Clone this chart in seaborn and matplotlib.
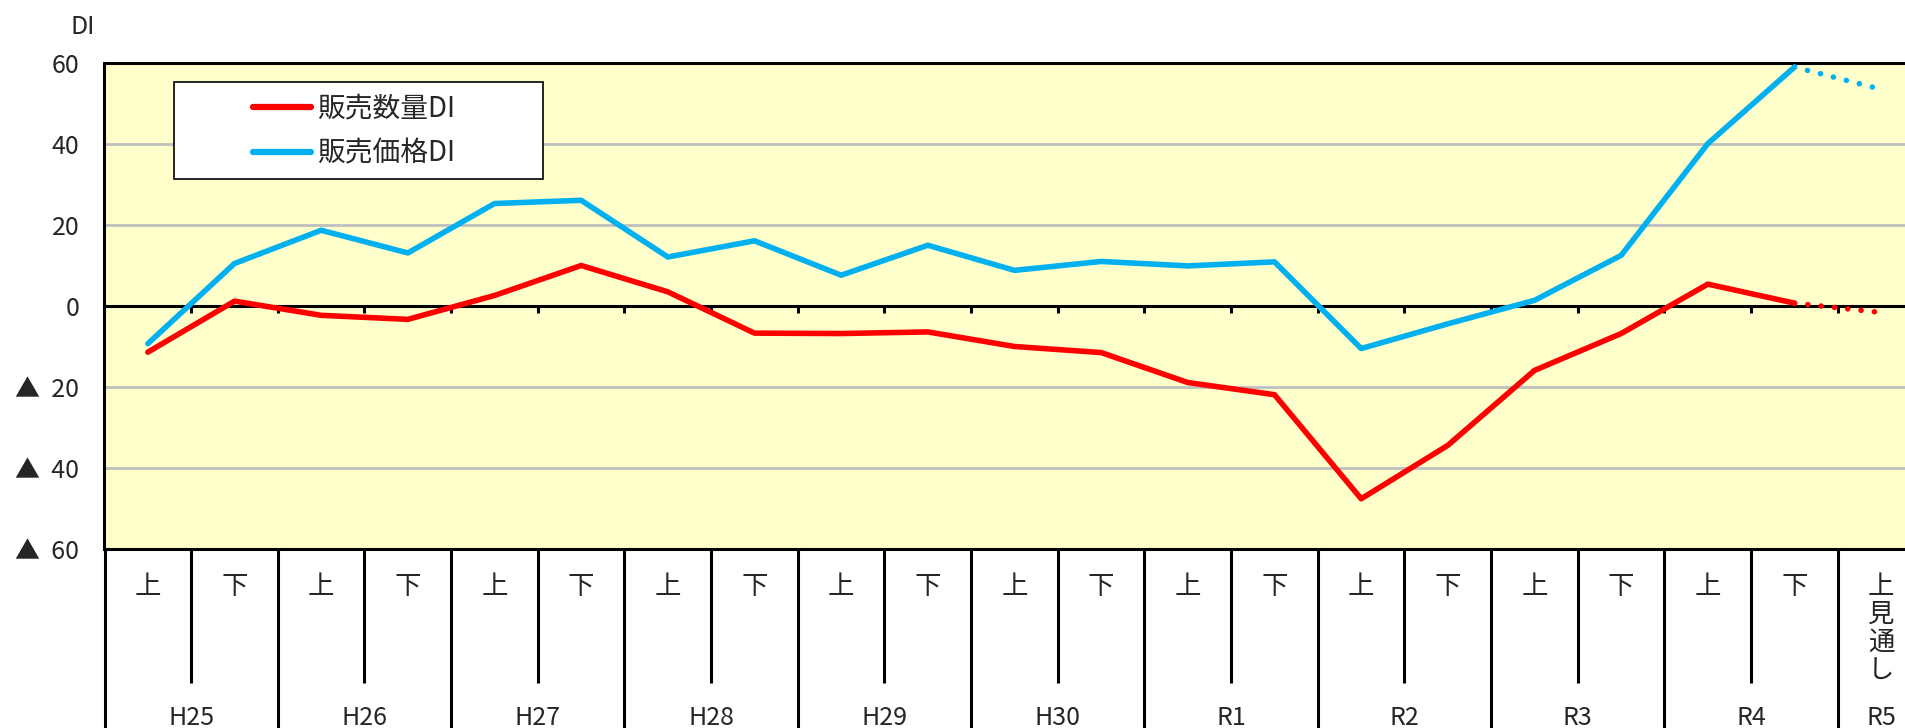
import pandas as pd
import matplotlib.pyplot as plt
import seaborn as sns
from matplotlib.lines import Line2D
from matplotlib.patches import Rectangle

# --- data ---
halves = ['上', '下'] * 10 + ['上\n見\n通\nし']
years = ['H25', 'H26', 'H27', 'H28', 'H29', 'H30', 'R1', 'R2', 'R3', 'R4', 'R5']
year_pos = [0.5, 2.5, 4.5, 6.5, 8.5, 10.5, 12.5, 14.5, 16.5, 18.5, 20]

volume_di = [-11.4, 1.2, -2.3, -3.3, 2.6, 10.0, 3.5, -6.7, -6.8, -6.4, -10.0,
             -11.5, -18.9, -21.9, -47.6, -34.4, -15.9, -6.8, 5.4, 0.7, -1.6]
price_di = [-9.3, 10.5, 18.7, 13.1, 25.3, 26.1, 12.1, 16.1, 7.6, 15.0, 8.8,
            11.0, 9.9, 10.9, -10.5, -4.4, 1.4, 12.5, 40.1, 59.0, 53.5]

names = ['販売数量DI', '販売価格DI']
colors = {'販売数量DI': '#FF0000', '販売価格DI': '#00B0F0'}

sns.set_style('white')
plt.rcParams['font.family'] = ['Noto Sans CJK JP', 'DejaVu Sans']

pos = list(range(len(halves)))
df = pd.DataFrame({
    'pos': pos * 2,
    'value': volume_di + price_di,
    'series': [names[0]] * len(pos) + [names[1]] * len(pos),
})
solid = df[df['pos'] <= 19]
outlook = df[df['pos'] >= 19]

W, H = 1906, 728
fig = plt.figure(figsize=(W / 100, H / 100), dpi=100)
ax = fig.add_axes([104.5 / W, 1 - 549 / H, 1820 / W, 486 / H])
ax.set_facecolor('#FFFFCC')

sns.lineplot(data=solid, x='pos', y='value', hue='series', palette=colors,
             linewidth=4.0, solid_capstyle='round', legend=False, ax=ax, zorder=4)
sns.lineplot(data=outlook, x='pos', y='value', hue='series', palette=colors,
             linewidth=4.0, linestyle=(0, (0.01, 2.4)), dash_capstyle='round',
             legend=False, ax=ax, zorder=4)

ax.set_xlim(-0.5, 20.5)
ax.set_ylim(-60, 60)

# y axis
yt = [60, 40, 20, 0, -20, -40, -60]
ax.set_yticks(yt, [str(v) if v >= 0 else '▲  ' + str(-v) for v in yt])
ax.yaxis.grid(True, color='#C0C0C0', linewidth=2)
ax.xaxis.grid(False)
ax.set_axisbelow(True)
ax.axhline(0, color='black', linewidth=2.2, zorder=3)
ax.vlines([i + 0.5 for i in range(20)], -1.8, 0, color='black', linewidth=2.2, zorder=3)

for s in ['top', 'left', 'bottom']:
    ax.spines[s].set_color('black')
    ax.spines[s].set_linewidth(2.2)
ax.spines['right'].set_visible(False)

# category axis: half-year labels, then year labels
ax.set_xticks(pos, halves)
ax.tick_params(axis='x', length=0, pad=17, labelsize=19)
ax.tick_params(axis='y', length=0, pad=18, labelsize=18)
for t in ax.get_xticklabels():
    t.set_linespacing(1.05)
ax.set_xlabel('')
ax.set_ylabel('')

sec = ax.secondary_xaxis('bottom')
sec.set_xticks(year_pos, years)
sec.tick_params(length=0, pad=112, labelsize=18)
sec.spines['bottom'].set_visible(False)

# table lines under the plot
xt = ax.get_xaxis_transform()
long_lines = [-0.5, 1.5, 3.5, 5.5, 7.5, 9.5, 11.5, 13.5, 15.5, 17.5, 19.5]
short_lines = [0.5, 2.5, 4.5, 6.5, 8.5, 10.5, 12.5, 14.5, 16.5, 18.5]
ax.vlines(long_lines, -(H - 549) / 486, 0, transform=xt, color='black',
          linewidth=2.2, clip_on=False)
ax.vlines(short_lines, -(683 - 549) / 486, 0, transform=xt, color='black',
          linewidth=2.2, clip_on=False)

fig.text(83 / W, 1 - 27 / H, 'DI', ha='center', va='center', fontsize=18)

# legend with a square frame
ax.add_patch(Rectangle((174 / W, 1 - 179 / H), 369 / W, 97 / H,
                       transform=fig.transFigure, facecolor='white',
                       edgecolor='black', linewidth=1.2, zorder=5, clip_on=False))
handles = [Line2D([], [], color=colors[n], linewidth=4.5, solid_capstyle='round')
           for n in names]
leg = ax.legend(handles, names, loc='center left', frameon=False,
                bbox_to_anchor=(253 / W, 1 - 131 / H), bbox_transform=fig.transFigure,
                fontsize=20, handlelength=2.1, handletextpad=0.22,
                labelspacing=0.53, borderpad=0, borderaxespad=0)
leg.set_zorder(6)

fig.savefig('out.png', dpi=100)
